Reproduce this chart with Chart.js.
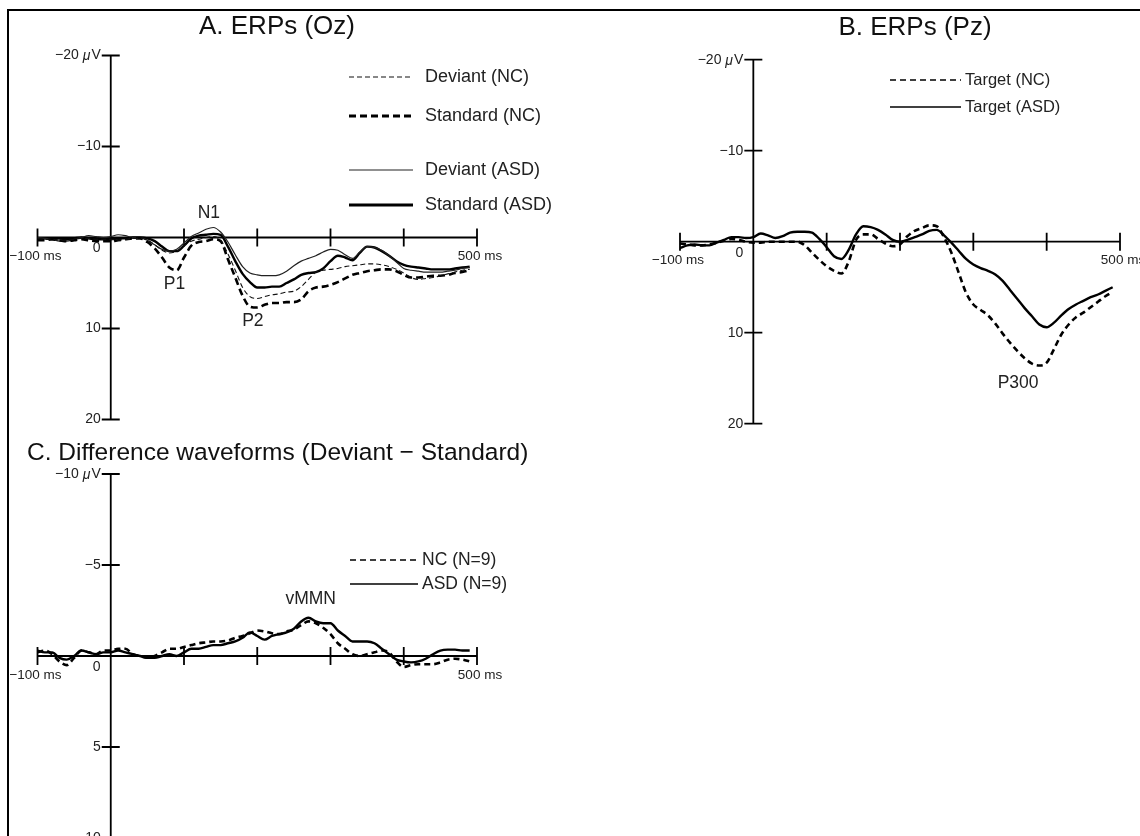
<!DOCTYPE html>
<html>
<head>
<meta charset="utf-8">
<script src="https://cdn.jsdelivr.net/npm/chart.js@4.4.1/dist/chart.umd.min.js"></script>
<style>
html, body { margin: 0; padding: 0; background: #fff; overflow: hidden; }
body { width: 1140px; height: 836px; position: relative; font-family: "Liberation Sans", Arial, sans-serif; }
canvas { position: absolute; }
.frameTop { position: absolute; left: 7px; top: 9px; width: 1133px; height: 2px; background: #000; }
.frameLeft { position: absolute; left: 7px; top: 9px; width: 2px; height: 827px; background: #000; }
.ttl { position: absolute; font-size: 26px; line-height: 26px; color: #111; white-space: nowrap; }
</style>
</head>
<body>
<div class="frameTop"></div>
<div class="frameLeft"></div>
<canvas id="erpOz" width="570" height="440" style="left:0;top:0"></canvas>
<canvas id="erpPz" width="570" height="440" style="left:570px;top:0"></canvas>
<canvas id="diffWave" width="570" height="400" style="left:0;top:440px"></canvas>
<div class="ttl" style="left:277px;top:12px;transform:translateX(-50%)">A. ERPs (Oz)</div>
<div class="ttl" style="left:915px;top:13px;transform:translateX(-50%)">B. ERPs (Pz)</div>
<div class="ttl" style="left:27px;top:440px;font-size:24.5px;line-height:24.5px">C. Difference waveforms (Deviant − Standard)</div>
<script>
// tiempo (ms), cada 10 ms
const timeMs = [-100, -90, -80, -70, -60, -50, -40, -30, -20, -10,
    0, 10, 20, 30, 40, 50, 60, 70, 80, 90,
    100, 110, 120, 130, 140, 150, 160, 170, 180, 190,
    200, 210, 220, 230, 240, 250, 260, 270, 280, 290,
    300, 310, 320, 330, 340, 350, 360, 370, 380, 390,
    400, 410, 420, 430, 440, 450, 460, 470, 480, 490];

// A. ERPs (Oz), en µV
const deviantNC = [0.1, 0.2, 0.2, 0.3, 0.3, 0.2, 0.1, 0.1, 0.2, 0.2,
    0.2, 0.3, 0.2, 0.1, 0.1, 0.3, 0.8, 1.4, 1.7, 1.5,
    0.9, 0.4, 0.2, 0.0, -0.1, 0.3, 1.8, 3.6, 5.5, 6.5,
    6.7, 6.5, 6.3, 6.2, 6.0, 5.9, 5.4, 4.6, 3.8, 3.6,
    3.5, 3.4, 3.2, 3.1, 3.0, 2.9, 2.9, 3.0, 3.2, 3.5,
    3.9, 4.4, 4.6, 4.5, 4.4, 4.2, 4.0, 3.8, 3.6, 3.5];
const standardNC = [0.3, 0.3, 0.2, 0.3, 0.4, 0.3, 0.2, 0.3, 0.4, 0.4,
    0.4, 0.3, 0.2, 0.1, 0.1, 0.5, 1.2, 2.2, 3.3, 3.6,
    2.2, 0.9, 0.5, 0.4, 0.2, 0.4, 2.4, 4.4, 6.4, 7.6,
    7.7, 7.4, 7.2, 7.2, 7.1, 7.1, 6.8, 5.9, 5.5, 5.4,
    5.2, 4.9, 4.5, 4.1, 3.9, 3.7, 3.6, 3.5, 3.5, 3.7,
    4.1, 4.4, 4.4, 4.3, 4.2, 4.2, 4.1, 3.9, 3.8, 3.6];
const deviantASD = [0.0, 0.1, 0.2, 0.4, 0.4, 0.2, 0.0, -0.2, -0.1, 0.0,
    -0.1, -0.3, -0.2, 0.0, 0.0, 0.3, 0.8, 1.3, 1.5, 1.3,
    0.6, -0.1, -0.5, -0.9, -1.1, -0.6, 0.5, 1.9, 3.2, 3.9,
    4.1, 4.2, 4.2, 4.1, 3.7, 3.1, 2.6, 2.3, 2.0, 1.6,
    1.3, 1.4, 1.9, 2.3, 1.6, 1.0, 1.1, 1.4, 2.0, 2.7,
    3.4, 3.6, 3.7, 3.8, 3.8, 3.8, 3.7, 3.6, 3.4, 3.3];
const standardASD = [0.2, 0.1, 0.2, 0.1, 0.2, 0.1, 0.0, 0.1, 0.2, 0.2,
    0.2, 0.1, 0.1, 0.0, 0.0, 0.1, 0.4, 1.0, 1.5, 1.5,
    0.9, 0.1, -0.2, -0.3, -0.4, -0.3, 1.0, 2.6, 4.0, 4.9,
    5.5, 5.5, 5.4, 5.4, 5.0, 4.6, 4.1, 3.9, 3.8, 3.4,
    2.6, 2.0, 2.2, 2.5, 1.7, 1.0, 1.1, 1.5, 2.0, 2.6,
    3.0, 3.2, 3.3, 3.4, 3.5, 3.5, 3.5, 3.4, 3.3, 3.2];

// B. ERPs (Pz)
const targetNC = [0.2, 0.3, 0.4, 0.4, 0.3, 0.1, -0.1, -0.3, -0.2, 0.0,
    0.1, 0.1, 0.0, 0.0, 0.0, 0.0, 0.0, 0.4, 1.2, 2.0,
    2.7, 3.2, 3.5, 2.2, -0.2, -0.8, -0.8, -0.3, 0.2, 0.5,
    0.3, -0.6, -1.2, -1.5, -1.8, -1.7, -0.5, 1.2, 3.4, 5.6,
    6.9, 7.5, 8.1, 9.0, 10.1, 11.1, 12.0, 12.8, 13.4, 13.6,
    13.3, 11.8, 10.2, 9.1, 8.3, 7.8, 7.2, 6.6, 6.0, 5.5];
const targetASD = [0.7, 0.4, 0.3, 0.4, 0.4, 0.1, -0.2, -0.5, -0.5, -0.4,
    -0.5, -0.9, -0.7, -0.4, -0.6, -1.0, -1.1, -1.1, -1.0, -0.3,
    0.6, 1.6, 1.9, 0.9, -0.8, -1.7, -1.6, -1.3, -0.8, -0.2,
    0.0, -0.2, -0.5, -0.8, -1.2, -1.3, -0.7, 0.1, 1.0, 1.9,
    2.5, 2.9, 3.2, 3.6, 4.3, 5.3, 6.3, 7.3, 8.2, 9.1,
    9.4, 8.9, 8.1, 7.4, 6.9, 6.5, 6.1, 5.8, 5.4, 5.0];

// C. Difference waveforms (Deviant - Standard)
const diffNC = [-0.2, -0.3, -0.1, 0.3, 0.5, 0.1, -0.3, -0.2, -0.1, -0.3,
    -0.3, -0.4, -0.4, -0.1, 0.0, 0.1, 0.0, -0.2, -0.4, -0.4,
    -0.5, -0.6, -0.7, -0.75, -0.8, -0.8, -0.85, -1.0, -1.1, -1.25,
    -1.4, -1.35, -1.25, -1.2, -1.35, -1.45, -1.7, -1.9, -1.8, -1.55,
    -1.2, -0.7, -0.4, -0.1, 0.0, -0.1, -0.2, -0.3, -0.2, 0.3,
    0.6, 0.5, 0.45, 0.45, 0.45, 0.35, 0.2, 0.15, 0.2, 0.3];
const diffASD = [-0.3, -0.2, -0.2, 0.1, 0.2, 0.0, -0.3, -0.2, -0.1, -0.2,
    -0.2, -0.3, -0.2, -0.1, 0.0, 0.1, 0.1, 0.0, -0.1, 0.0,
    -0.2, -0.4, -0.4, -0.5, -0.6, -0.6, -0.7, -0.8, -1.0, -1.3,
    -1.1, -0.9, -1.1, -1.2, -1.3, -1.5, -1.9, -2.1, -1.9, -1.8,
    -1.8, -1.4, -1.1, -0.8, -0.8, -0.8, -0.7, -0.4, -0.1, 0.2,
    0.3, 0.35, 0.3, 0.15, -0.1, -0.3, -0.35, -0.35, -0.3, -0.3];

// ejes
const xTicks = [-100, 0, 100, 200, 300, 400, 500];
const xTickLabels = ['−100 ms', '0', '500 ms'];
const yTicksAB = [-20, -10, 0, 10, 20];
const yTicksC = [-10, -5, 0, 5, 10];

const FONT = '"Liberation Sans", Arial, sans-serif';

const toPoints = arr => timeMs.map((t, i) => ({ x: t, y: arr[i] }));

const serie = (label, arr, width, dash, legendWidth, color) => ({
    label: label,
    data: toPoints(arr),
    borderColor: color || '#000',
    borderWidth: width,
    borderDash: dash,
    legendWidth: legendWidth,
    pointRadius: 0,
    fill: false,
    cubicInterpolationMode: 'monotone'
});

// dibuja ejes cruzados en el origen, etiquetas, leyenda y anotaciones
const erpAxes = {
    id: 'erpAxes',
    beforeDatasetsDraw(chart, args, o) {
        const { ctx } = chart;
        const x = chart.scales.x, y = chart.scales.y;
        const x0 = x.getPixelForValue(0), y0 = y.getPixelForValue(0);
        ctx.save();
        ctx.strokeStyle = '#000';
        ctx.lineWidth = 1.8;
        ctx.beginPath();
        ctx.moveTo(x.getPixelForValue(xTicks[0]), y0);
        ctx.lineTo(x.getPixelForValue(xTicks[xTicks.length - 1]), y0);
        ctx.moveTo(x0, y.getPixelForValue(o.yTicks[0]));
        ctx.lineTo(x0, y.getPixelForValue(o.yTicks[o.yTicks.length - 1]));
        xTicks.forEach(t => {
            if (t === 0) return;
            const px = x.getPixelForValue(t);
            ctx.moveTo(px, y0 - 9);
            ctx.lineTo(px, y0 + 9);
        });
        o.yTicks.forEach(v => {
            if (v === 0) return;
            const py = y.getPixelForValue(v);
            ctx.moveTo(x0 - 9, py);
            ctx.lineTo(x0 + 9, py);
        });
        ctx.stroke();
        ctx.restore();
    },
    afterDatasetsDraw(chart, args, o) {
        const { ctx } = chart;
        const x = chart.scales.x, y = chart.scales.y;
        const x0 = x.getPixelForValue(0), y0 = y.getPixelForValue(0);
        ctx.save();
        ctx.fillStyle = '#222';
        ctx.textBaseline = 'middle';

        // etiquetas eje y
        ctx.font = '14px ' + FONT;
        o.yTicks.forEach((v, i) => {
            if (v === 0) return;
            const py = y.getPixelForValue(v);
            const txt = (v < 0 ? '−' : '') + Math.abs(v);
            if (i === 0) {
                ctx.font = '14px ' + FONT;
                const wV = ctx.measureText('V').width;
                ctx.font = 'italic 14px ' + FONT;
                const wMu = ctx.measureText('μ').width;
                ctx.font = '14px ' + FONT;
                const wN = ctx.measureText(txt + ' ').width;
                let left = x0 - 10 - (wN + wMu + 1 + wV);
                ctx.textAlign = 'left';
                ctx.fillText(txt + ' ', left, py);
                ctx.font = 'italic 14px ' + FONT;
                ctx.fillText('μ', left + wN, py + 1);
                ctx.font = '14px ' + FONT;
                ctx.fillText('V', left + wN + wMu + 1, py);
            } else {
                ctx.textAlign = 'right';
                ctx.fillText(txt, x0 - 10, py);
            }
        });

        // etiquetas eje x
        ctx.font = '13.5px ' + FONT;
        ctx.textAlign = 'center';
        ctx.fillText(xTickLabels[0], x.getPixelForValue(xTicks[0]) - 2, y0 + 19);
        ctx.fillText(xTickLabels[2], x.getPixelForValue(xTicks[xTicks.length - 1]) + 3, y0 + 19);
        ctx.font = '14px ' + FONT;
        ctx.fillText(xTickLabels[1], x0 - 14, y0 + 11);

        // leyenda
        const lg = o.legend;
        ctx.font = lg.size + 'px ' + FONT;
        ctx.textAlign = 'left';
        chart.data.datasets.forEach((ds, i) => {
            const ly = lg.rows[i];
            ctx.beginPath();
            ctx.strokeStyle = ds.borderColor;
            ctx.lineWidth = ds.legendWidth;
            ctx.setLineDash(ds.borderDash || []);
            ctx.moveTo(lg.x1, ly);
            ctx.lineTo(lg.x2, ly);
            ctx.stroke();
            ctx.setLineDash([]);
            ctx.fillStyle = '#222';
            ctx.fillText(ds.label, lg.tx, ly);
        });

        // anotaciones de componentes
        ctx.font = '17.5px ' + FONT;
        ctx.textAlign = 'center';
        o.marks.forEach(m => {
            ctx.fillText(m.text, x.getPixelForValue(m.t), y.getPixelForValue(m.v));
        });
        ctx.restore();
    }
};

function createConfig(datasets, yMin, yMax, padding, axisOpts) {
    return {
        type: 'line',
        data: { datasets: datasets },
        options: {
            responsive: false,
            animation: false,
            devicePixelRatio: 1,
            layout: { padding: padding },
            scales: {
                x: { type: 'linear', min: -100, max: 500, display: false },
                y: { type: 'linear', min: yMin, max: yMax, reverse: true, display: false }
            },
            plugins: {
                legend: { display: false },
                tooltip: { enabled: false },
                erpAxes: axisOpts
            }
        },
        plugins: [erpAxes]
    };
}

new Chart(document.getElementById('erpOz').getContext('2d'), createConfig([
    serie('Deviant (NC)', deviantNC, 1.1, [5, 3], 1.1, '#111'),
    serie('Standard (NC)', standardNC, 2.6, [7, 4], 3),
    serie('Deviant (ASD)', deviantASD, 1.2, [], 1.1, '#222'),
    serie('Standard (ASD)', standardASD, 2.4, [], 3)
], -20, 20, { left: 37.5, right: 93, top: 55.5, bottom: 20.5 }, {
    yTicks: yTicksAB,
    legend: { x1: 349, x2: 413, tx: 425, size: 18, rows: [77, 116, 170, 205] },
    marks: [
        { text: 'N1', t: 134, v: -2.7 },
        { text: 'P1', t: 87, v: 5.1 },
        { text: 'P2', t: 194, v: 9.2 }
    ]
}));

new Chart(document.getElementById('erpPz').getContext('2d'), createConfig([
    serie('Target (NC)', targetNC, 2.6, [6, 4], 1.4),
    serie('Target (ASD)', targetASD, 2.4, [], 1.4)
], -20, 20, { left: 110, right: 20, top: 59.7, bottom: 16.3 }, {
    yTicks: yTicksAB,
    legend: { x1: 320, x2: 391, tx: 395, size: 16.5, rows: [80, 107] },
    marks: [
        { text: 'P300', t: 361, v: 15.5 }
    ]
}));

new Chart(document.getElementById('diffWave').getContext('2d'), createConfig([
    serie('NC (N=9)', diffNC, 2.6, [6, 4], 1.4),
    serie('ASD (N=9)', diffASD, 2.4, [], 1.4)
], -10, 10, { left: 37.5, right: 93, top: 34, bottom: 2 }, {
    yTicks: yTicksC,
    legend: { x1: 350, x2: 418, tx: 422, size: 17.5, rows: [120, 144] },
    marks: [
        { text: 'vMMN', t: 273, v: -3.1 }
    ]
}));
</script>
</body>
</html>
